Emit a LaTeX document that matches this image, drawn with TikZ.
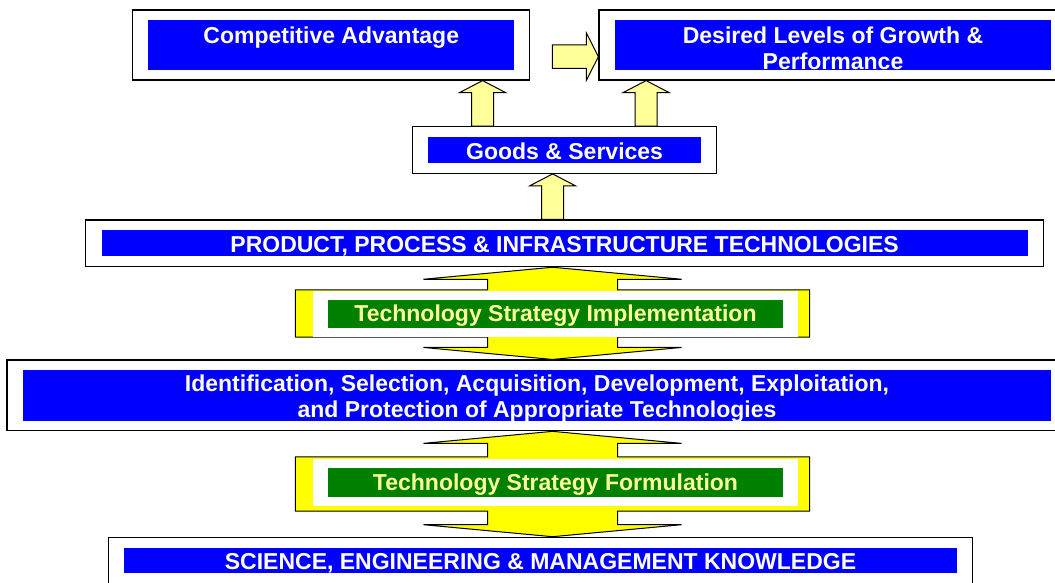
\documentclass[tikz,border=0pt]{standalone}
\usepackage{fontspec}
\setmainfont{Liberation Sans}
\usepackage{xcolor}
\usetikzlibrary{calc}
\definecolor{ppblue}{RGB}{0,0,255}
\definecolor{ppgreen}{RGB}{0,128,0}
\definecolor{ppyellow}{RGB}{255,255,0}
\definecolor{paleyellow}{RGB}{255,255,153}

% block arrow pointing up, from the top of #1 to the bottom of #2, shifted by #3
\newcommand\blockup[3]{%
\draw[blockarrow] let \p1=(#1.north), \p2=(#2.south) in
({\x1+(#3)-11},\y1)--({\x1+(#3)-11},\y2-12)--({\x1+(#3)-23},\y2-12)--({\x1+(#3)},\y2)
--({\x1+(#3)+23},\y2-12)--({\x1+(#3)+11},\y2-12)--({\x1+(#3)+11},\y1)--cycle;}

% up-down arrow callout between #1 and #3 with its box on #2
\newcommand\callout[3]{%
\draw[callarrow] let \p1=(#1.south), \p2=(#2.north east), \p3=(#2.south west),
\p4=(#3.north), \p5=(#2.center) in
(\x5,\y1)--(\x5+129,\y1-12)--(\x5+65,\y1-12)--(\x5+65,\y2)--(\x2,\y2)--(\x2,\y3)
--(\x5+65,\y3)--(\x5+65,\y4+12)--(\x5+129,\y4+12)--(\x5,\y4)--(\x5-129,\y4+12)
--(\x5-65,\y4+12)--(\x5-65,\y3)--(\x3,\y3)--(\x3,\y2)--(\x5-65,\y2)
--(\x5-65,\y1-12)--(\x5-129,\y1-12)--cycle;}

\begin{document}
\begin{tikzpicture}[x=1pt,y=-1pt,
outerbox/.style={draw,line width=1.2pt,fill=white,inner sep=0pt},
bluebox/.style={fill=ppblue,text=white,inner sep=0pt,align=center,
  font=\bfseries\fontsize{23}{26.5}\selectfont,text height=18.6pt,text depth=0pt},
greenbox/.style={fill=ppgreen,text=paleyellow,inner sep=0pt,
  font=\bfseries\fontsize{23}{26.5}\selectfont,text height=15.6pt,text depth=0pt},
blockarrow/.style={draw,line width=1pt,fill=paleyellow},
callarrow/.style={draw,line width=1pt,fill=ppyellow}]
\useasboundingbox(0,0)rectangle(1055,583);
\clip(0,0)rectangle(1055,583);

% top row
\node[outerbox,minimum width=397,minimum height=70](ca)at(331.3,45){};
\node[bluebox,minimum width=366,minimum height=49.5,text height=17pt,text depth=20pt]
(ca-in)at(ca.center){Competitive Advantage};
\node[outerbox,minimum width=468,minimum height=70](gp)at(833,45){};
\node[bluebox,minimum width=436,minimum height=49.5,text height=49.5pt,text depth=0pt]
(gp-in)at(gp.center){Desired Levels of Growth \&\\Performance};

\node[outerbox,minimum width=304,minimum height=46.6](gs)at(564.6,150){};
\node[bluebox,minimum width=273,minimum height=26](gs-in)at(gs.center){Goods \& Services};

\node[outerbox,minimum width=958,minimum height=46.7](pt)at(564.6,243.3){};
\node[bluebox,minimum width=926,minimum height=26](pt-in)at(pt.center)
{PRODUCT, PROCESS \& INFRASTRUCTURE TECHNOLOGIES};

\node[outerbox,minimum width=1060,minimum height=70.7](id)at(537,395.4){};
\node[bluebox,minimum width=1028,minimum height=50.7,text height=45pt,text depth=0pt]
(id-in)at(id.center){Identification, Selection, Acquisition, Development, Exploitation,\\
and Protection of Appropriate Technologies};

\node[outerbox,minimum width=864.4,minimum height=48](sk)at(540.5,561.3){};
\node[bluebox,minimum width=833,minimum height=25.6](sk-in)at(540.5,560.5)
{SCIENCE, ENGINEERING \& MANAGEMENT KNOWLEDGE};

% light arrows
\blockup{gs}{ca}{-82}
\blockup{gs}{gp}{81.5}
\blockup{pt}{gs}{-12}
\draw[blockarrow] let \p1=(ca.east), \p2=(gp.west) in
(\x1+22,\y2)--(\x2-12,\y2)--(\x2-12,\y2+12)--(\x2,\y2-11.7)--(\x2-12,\y2-35.3)
--(\x2-12,\y2-23.3)--(\x1+22,\y2-23.3)--cycle;

% strategy callouts
\node[minimum width=514,minimum height=47](tsi)at(552.5,313.5){};
\callout{pt}{tsi}{id}
\node[fill=white,inner sep=0pt,minimum width=485,minimum height=46](tsi-w)at(555.5,313.5){};
\node[greenbox,minimum width=455.6,minimum height=27.7](tsi-in)at(555.5,313.9)
{Technology Strategy Implementation};

\node[minimum width=514,minimum height=54](tsf)at(552.5,484){};
\callout{id}{tsf}{sk}
\node[fill=white,inner sep=0pt,minimum width=485,minimum height=46.7](tsf-w)at(555.5,482.7){};
\node[greenbox,minimum width=455.6,minimum height=29](tsf-in)at(555.5,482.2)
{Technology Strategy Formulation};
\end{tikzpicture}
\end{document}
